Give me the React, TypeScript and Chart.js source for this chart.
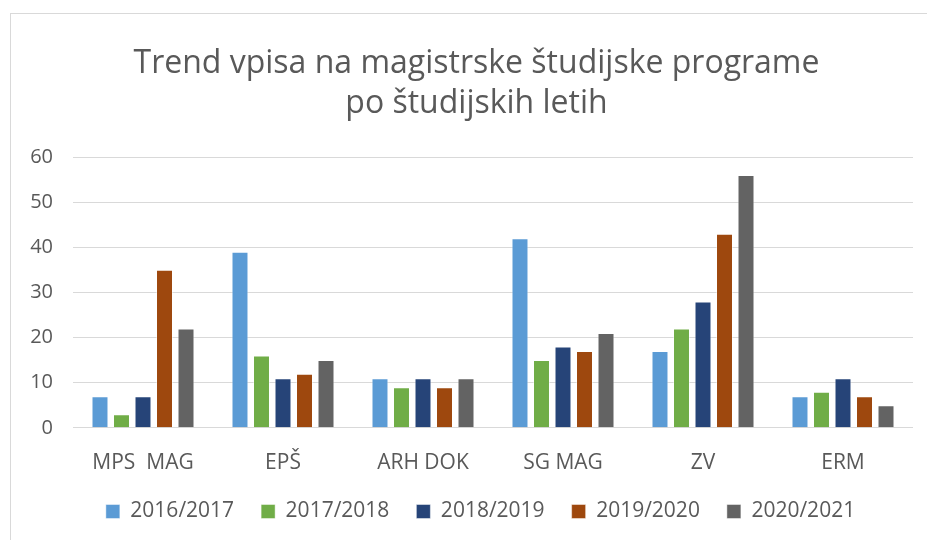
import React, { useEffect, useRef } from "react";
import { Chart, registerables } from "chart.js";

Chart.register(...registerables);

const titleLines = ["Trend vpisa na magistrske študijske programe", "po študijskih letih"];
const categories = ["MPS  MAG", "EPŠ", "ARH DOK", "SG MAG", "ZV", "ERM"];
const seriesLabels = ["2016/2017", "2017/2018", "2018/2019", "2019/2020", "2020/2021"];
const s2016 = [7, 39, 11, 42, 17, 7];
const s2017 = [3, 16, 9, 15, 22, 8];
const s2018 = [7, 11, 11, 18, 28, 11];
const s2019 = [35, 12, 9, 17, 43, 7];
const s2020 = [22, 15, 11, 21, 56, 5];
const seriesColors = ["#5B9BD5", "#70AD47", "#264478", "#9E480E", "#636363"];
const yTicks = [0, 10, 20, 30, 40, 50, 60];

const FONT = "'Open Sans', 'Liberation Sans', sans-serif";
const TEXT = "#595959";

const framePlugin = {
  id: "frame",
  afterLayout(chart: any) {
    if (chart.titleBlock) chart.titleBlock.left += 40;
    if (chart.legend) chart.legend.left += 48;
  },
  beforeDraw(chart: any) {
    const ctx = chart.ctx;
    ctx.save();
    ctx.fillStyle = "#ffffff";
    ctx.fillRect(0, 0, chart.width, chart.height);
    ctx.strokeStyle = "#d9d9d9";
    ctx.lineWidth = 1;
    ctx.strokeRect(10.5, 13.5, 2000, 2000);
    ctx.restore();
  },
};

export default function App() {
  const ref = useRef<HTMLCanvasElement | null>(null);
  useEffect(() => {
    if (!ref.current) return;
    const values = [s2016, s2017, s2018, s2019, s2020];
    const chart = new Chart(ref.current, {
      type: "bar",
      data: {
        labels: categories,
        datasets: seriesLabels.map((l, i) => ({
          label: l,
          data: values[i],
          backgroundColor: seriesColors[i],
          borderColor: "rgba(255,255,255,0.45)",
          borderWidth: 1,
          categoryPercentage: 0.768,
          barPercentage: 0.79,
        })),
      },
      options: {
        responsive: false,
        animation: false,
        devicePixelRatio: 1,
        layout: { padding: { left: 0, right: 14, top: 0, bottom: 8 } },
        plugins: {
          title: {
            display: true,
            text: titleLines,
            color: TEXT,
            font: { family: FONT, size: 32, weight: "normal", lineHeight: 1.25 },
            padding: { top: 44, bottom: 33 },
          },
          legend: {
            position: "bottom",
            labels: {
              color: TEXT,
              font: { family: FONT, size: 21 },
              boxWidth: 14,
              boxHeight: 14,
              padding: 27,
            },
          },
          tooltip: { enabled: false },
        },
        scales: {
          x: {
            grid: { display: false },
            border: { display: false },
            ticks: { color: TEXT, font: { family: FONT, size: 21 }, padding: 15 },
            afterFit: (scale: any) => {
              scale.height = scale.height - 17;
            },
          },
          y: {
            min: 0,
            max: 60,
            afterBuildTicks: (scale: any) => {
              scale.ticks = yTicks.map((v) => ({ value: v }));
            },
            afterFit: (scale: any) => {
              scale.width = 73;
            },
            grid: { color: "#d9d9d9", lineWidth: 1, drawTicks: false },
            border: { display: false },
            ticks: { color: TEXT, font: { family: FONT, size: 20 }, padding: 20 },
          },
        },
      },
      plugins: [framePlugin],
    });
    return () => chart.destroy();
  }, []);
  return (
    <div style={{ position: "fixed", left: 0, top: 0, width: 927, height: 540 }}>
      <canvas ref={ref} width={927} height={540} />
    </div>
  );
}
